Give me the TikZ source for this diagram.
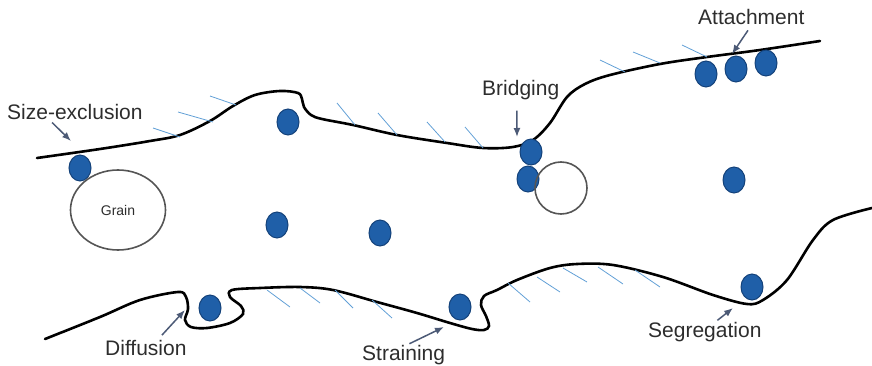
\documentclass[tikz,border=0pt]{standalone}
\usepackage{fontspec}
\setmainfont{Liberation Sans}
\usetikzlibrary{shapes.geometric,arrows.meta}
\definecolor{poreblue}{RGB}{31,95,168}
\definecolor{poreedge}{RGB}{20,66,122}
\definecolor{hatchblue}{RGB}{98,160,214}
\definecolor{graingrey}{RGB}{85,85,85}
\definecolor{labelgrey}{RGB}{45,45,45}
\definecolor{pointergrey}{RGB}{76,90,118}

\begin{document}
\begin{tikzpicture}[x=1pt, y=-1pt,
	wall/.style={line width=2.6pt, line cap=round, black},
	hatch/.style={line width=0.8pt, hatchblue},
	particle/.style={ellipse, draw=poreedge, line width=1pt, fill=poreblue,
		minimum width=22pt, minimum height=26pt, inner sep=0pt},
	grain/.style={ellipse, draw=graingrey, line width=1.6pt, inner sep=0pt,
		font=\fontsize{14}{16}\selectfont, text=labelgrey},
	mech/.style={anchor=base west, inner sep=0pt, text=labelgrey,
		font=\fontsize{21}{24}\selectfont},
	pointer/.style={-{Latex[length=9pt,width=7pt]}, line width=1.5pt, pointergrey}]
	\useasboundingbox (0,0) rectangle (872,366);

	% pore walls
	\draw[wall] plot[smooth, tension=0.55] coordinates {
		(37,158) (100,149) (150,141) (180,135) (210,121) (233,106) (255,95)
		(280,91) (298,93) (302,99) (304,107) (311,115) (322,119) (353,125)
		(397,135) (447,143) (483,148) (513,147) (533,140) (550,123) (567,97)
		(585,84) (610,75) (660,64) (707,57) (760,50) (820,41)};
	\draw[wall] plot[smooth, tension=0.55] coordinates {
		(45,339) (100,317) (140,300) (178,292) (186,297) (188,309) (185,320)
		(191,327) (207,328) (230,323) (243,314) (241,306) (230,297) (232,290)
		(260,288) (300,287) (333,290) (377,302) (417,313) (450,323) (472,329)
		(484,330) (489,326) (486,316) (481,305) (484,296) (497,290) (517,280)
		(550,268) (577,264) (613,265) (663,277) (713,295) (747,304) (763,300)
		(787,280) (813,240) (833,220) (872,208)};

	% hatching on the solid side
	\foreach \xa/\ya/\xb/\yb in {153/128/180/137, 178/112/213/122, 210/96/236/105,
		337/103/355/125, 378/113/397/135, 427/122/445/142, 465/127/483/148,
		600/60/625/72, 633/52/660/63, 682/45/707/57}
		\draw[hatch] (\xa,\ya) -- (\xb,\yb);
	\foreach \xa/\ya/\xb/\yb in {267/290/290/307, 300/288/320/303, 335/290/353/308,
		372/300/392/318, 508/283/530/302, 537/277/560/292, 563/268/587/282,
		598/267/623/284, 635/270/660/287}
		\draw[hatch] (\xa,\ya) -- (\xb,\yb);

	% particles
	\foreach \n/\px/\py in {a/80/168, b/288/122, c/277/225, d/380/233, e/531/152,
		f/528/179, g/706/74, h/736/69, i/766/63, j/734/180, k/210/308,
		l/460/307, m/752/287}
		\node[particle] (p\n) at (\px,\py) {};

	% grains
	\node[grain, minimum width=95pt, minimum height=80pt] (grain) at (118,210) {Grain};
	\node[grain, minimum width=52pt, minimum height=52pt] (smallgrain) at (561,188) {};

	% mechanisms
	\node[mech] (sizeex) at (7,120) {Size-exclusion};
	\node[mech] (bridging) at (482,96) {Bridging};
	\node[mech] (attach) at (698,25) {Attachment};
	\node[mech] (diffusion) at (105,355) {Diffusion};
	\node[mech] (straining) at (362,360) {Straining};
	\node[mech] (segregation) at (648,337) {Segregation};

	\coordinate (sizeexTip) at (71,141);
	\coordinate (bridgingTip) at (517,137);
	\coordinate (attachTip) at (732,54);
	\coordinate (diffusionTip) at (185,310);
	\coordinate (strainingTip) at (444,327);
	\coordinate (segregationTip) at (733,308);

	\draw[pointer, shorten <=3pt] ([xshift=-25pt]sizeex.south) -- (sizeexTip);
	\draw[pointer, shorten <=10pt] ([xshift=-4pt]bridging.south) -- (bridgingTip);
	\draw[pointer, shorten <=6pt] (attach.south) -- (attachTip);
	\draw[pointer, shorten <=6pt] ([xshift=12pt]diffusion.north) -- (diffusionTip);
	\draw[pointer, shorten <=2pt] ([xshift=4pt]straining.north) -- (strainingTip);
	\draw[pointer, shorten <=2pt] ([xshift=11pt]segregation.north) -- (segregationTip);
\end{tikzpicture}
\end{document}
